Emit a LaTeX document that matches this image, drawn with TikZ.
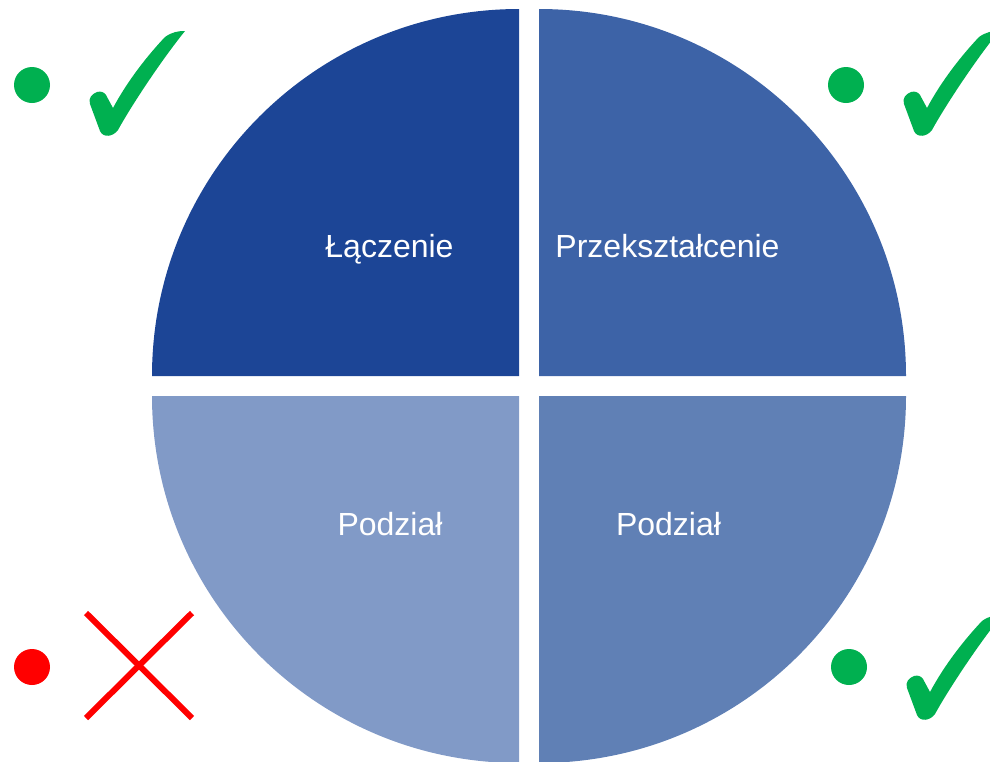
\documentclass[tikz,border=0pt]{standalone}
\usepackage{fontspec}
\setmainfont{Liberation Sans}
\definecolor{qtl}{RGB}{28,69,150}
\definecolor{qtr}{RGB}{61,99,167}
\definecolor{qbl}{RGB}{129,154,199}
\definecolor{qbr}{RGB}{96,128,181}
\definecolor{okgreen}{RGB}{0,176,80}
\definecolor{badred}{RGB}{255,0,0}
\tikzset{
  quadlabel/.style={text=white, font=\fontsize{32}{38}\selectfont, anchor=base, inner sep=0pt},
  marker/.style={fill=#1, draw=none},
  checkmark/.pic={
    \fill[okgreen] (185,31) .. controls (160,62) and (130,108) .. (118,130)
      .. controls (113,137) and (103,138) .. (100,131)
      -- (90,104)
      .. controls (88,98) and (92,94) .. (97,92)
      .. controls (101,91) and (104,92) .. (106,95)
      -- (113,108)
      .. controls (128,80) and (148,55) .. (165,37)
      .. controls (172,32) and (178,31) .. (185,31) -- cycle;
  }
}
\begin{document}
\begin{tikzpicture}[x=1pt,y=-1pt]
\useasboundingbox (0,0) rectangle (990,761);
\clip (0,0) rectangle (990,761);
% quadrants
\fill[qtl] (519,376) -- (152,376) arc[start angle=180,end angle=270,radius=367] -- cycle;
\fill[qtr] (539,376) -- (906,376) arc[start angle=0,end angle=-90,radius=367] -- cycle;
\fill[qbl] (519,396) -- (152,396) arc[start angle=180,end angle=90,radius=367] -- cycle;
\fill[qbr] (539,396) -- (906,396) arc[start angle=0,end angle=90,radius=367] -- cycle;
% labels
\node[quadlabel] (lacz) at (389.5,257) {Łączenie};
\node[quadlabel] (przek) at (667.5,257) {Przekształcenie};
\node[quadlabel] (podl) at (390,535) {Podział};
\node[quadlabel] (podr) at (668.5,535) {Podział};
% dots
\fill[okgreen] (32,85) circle[radius=18];
\fill[okgreen] (846,85) circle[radius=18];
\fill[okgreen] (849,667) circle[radius=18];
\fill[badred] (32,667) circle[radius=18];
% check marks
\pic at (0,0) {checkmark};
\pic at (814,0) {checkmark};
\pic at (817,584) {checkmark};
% cross
\draw[badred, line width=6pt] (86,613) -- (192,718);
\draw[badred, line width=6pt] (192,613) -- (86,718);
\end{tikzpicture}
\end{document}
